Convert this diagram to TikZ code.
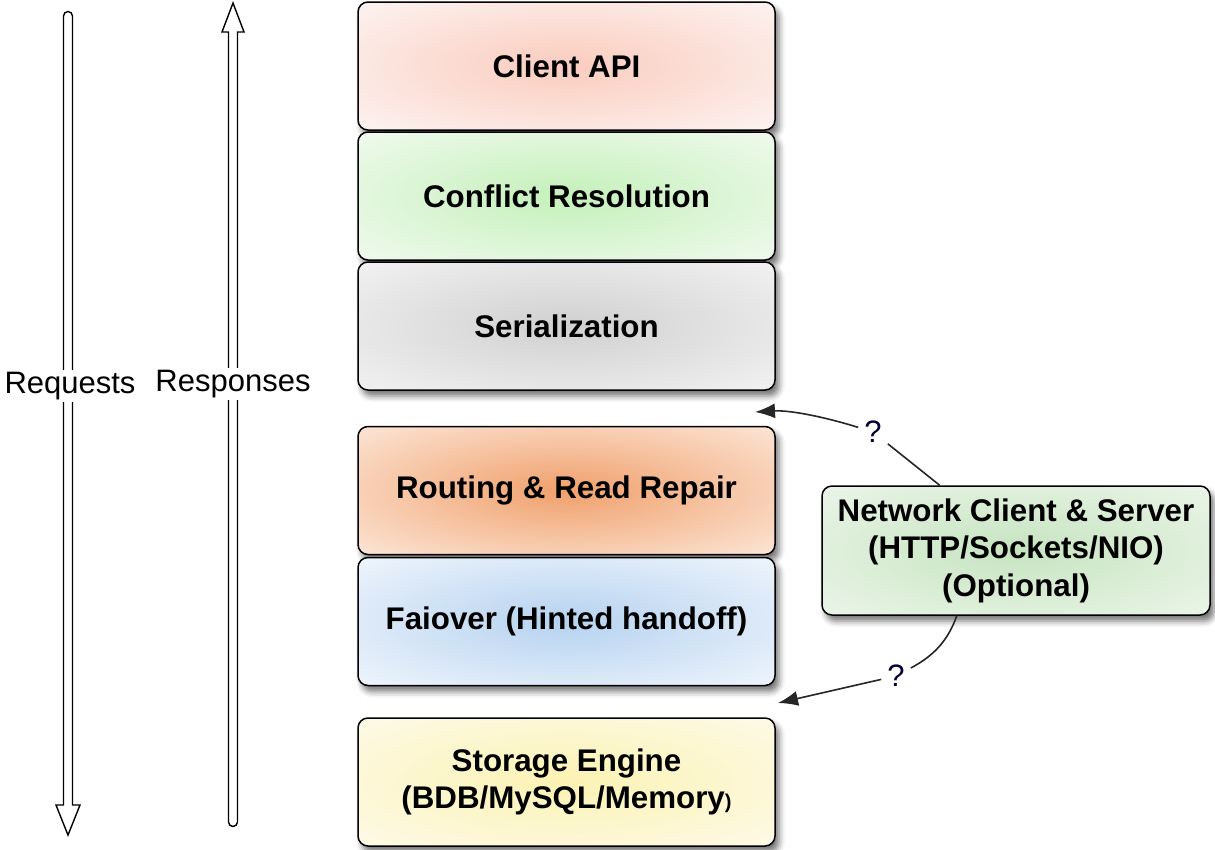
\documentclass[tikz,border=0pt]{standalone}
\usepackage{fontspec}
\setmainfont{Liberation Sans}
\usetikzlibrary{arrows.meta,shadows.blur,calc}
\definecolor{clientin}{RGB}{250,204,190}
\definecolor{clientout}{RGB}{253,248,248}
\definecolor{confin}{RGB}{196,240,186}
\definecolor{confout}{RGB}{246,251,245}
\definecolor{serin}{RGB}{208,208,208}
\definecolor{serout}{RGB}{246,246,246}
\definecolor{routin}{RGB}{240,160,108}
\definecolor{routout}{RGB}{253,238,228}
\definecolor{failin}{RGB}{182,210,240}
\definecolor{failout}{RGB}{246,249,253}
\definecolor{storin}{RGB}{252,242,180}
\definecolor{storout}{RGB}{253,251,238}
\definecolor{netin}{RGB}{198,228,192}
\definecolor{netout}{RGB}{240,247,238}
\colorlet{ic}{white}
\colorlet{oc}{white}
\pgfdeclareradialshading[ic,oc]{softrad}{\pgfpoint{0bp}{0bp}}{color(0bp)=(ic); color(40bp)=(oc); color(50bp)=(oc)}
\tikzset{
  tier/.style 2 args={draw=black, line width=1.5pt, rounded corners=10pt,
    minimum width=417pt, minimum height=128pt, inner sep=0pt, align=center,
    /utils/exec={\colorlet{ic}{#1}\colorlet{oc}{#2}}, shading=softrad,
    blur shadow={shadow xshift=4pt, shadow yshift=-6pt, shadow blur radius=6pt, shadow opacity=55},
    font=\bfseries\fontsize{31.3}{37.5}\selectfont},
  bigarrow/.style={draw=black, line width=1.4pt, fill=white, line join=miter},
  lbl/.style={fill=white, inner sep=2pt, font=\fontsize{31}{36}\selectfont},
  qm/.style={inner sep=6pt, font=\fontsize{31}{36}\selectfont, text=black!80!blue},
  conn/.style={draw=black!85, line width=1.6pt},
  tip/.style={-{Latex[length=20pt,width=15pt]}}
}
\begin{document}
\begin{tikzpicture}[x=1pt,y=-1pt]
\useasboundingbox (0,0) rectangle (1215,849);
% big direction arrows
\draw[bigarrow] (63.5,16) arc[start angle=180,end angle=360,radius=4.5] -- (72.5,805) -- (80,805) -- (68,835) -- (56,805) -- (63.5,805) -- cycle;
\draw[bigarrow] (233,3) -- (244,32) -- (237.5,32) -- (237.5,822) arc[start angle=0,end angle=180,radius=4.5] -- (228.5,32) -- (222,32) -- cycle;
\node[lbl] (req) at (70,386) {Requests};
\node[lbl] (resp) at (233,384) {Responses};
% layers
\node[tier={clientin}{clientout}] (api) at (566.5,66) {Client API};
\node[tier={confin}{confout}] (conf) at (566.5,196) {Conflict Resolution};
\node[tier={serin}{serout}] (ser) at (566.5,326) {Serialization};
\node[tier={routin}{routout}] (rout) at (566.5,490.5) {Routing \& Read Repair};
\node[tier={failin}{failout}] (fail) at (566.5,621.5) {Faiover (Hinted handoff)};
\node[tier={storin}{storout}] (stor) at (566.5,782) {Storage Engine\\(BDB/MySQL/Memory{\fontsize{20}{20}\selectfont )}};
\node[tier={netin}{netout}, minimum width=388pt, minimum height=129pt] (net) at (1016,550.5) {Network Client \& Server\\(HTTP/Sockets/NIO)\\(Optional)};
% question marks and connectors
\node[qm] (q1) at (873,432) {?};
\node[qm] (q2) at (896,676) {?};
\coordinate (n1) at ($(net.north west)!0.304!(net.north east)$);
\coordinate (n2) at ($(net.south west)!0.348!(net.south east)$);
\coordinate (t1) at (755,412);
\coordinate (t2) at (778,703);
\draw[conn] (n1) -- (q1);
\draw[conn,tip] (q1) .. controls (825,417) and (790,410) .. (t1);
\draw[conn] (n2) .. controls (948,640) and (935,655) .. (q2);
\draw[conn,tip] (q2) -- (t2);
\end{tikzpicture}
\end{document}
